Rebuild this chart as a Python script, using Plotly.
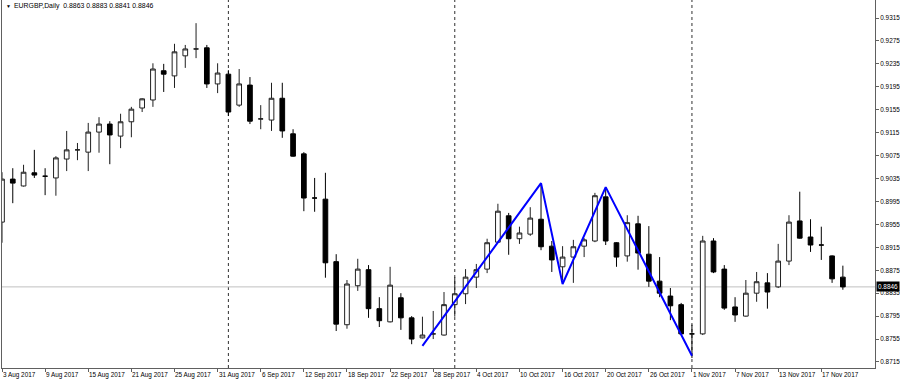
import plotly.graph_objects as go

# ---- data (EURGBP daily) ----
bar_index = list(range(79))
opens = [0.8959, 0.9034, 0.9022, 0.9045, 0.9039, 0.9036, 0.9069, 0.9085, 0.9081, 0.9116,
         0.9130, 0.9109, 0.9134, 0.9158, 0.9172, 0.9223, 0.9214, 0.9249, 0.9261, 0.9263,
         0.9200, 0.9217, 0.9163, 0.9198, 0.9139, 0.9137, 0.9175, 0.9113, 0.9078, 0.9001,
         0.8999, 0.8890, 0.8780, 0.8848, 0.8876, 0.8808, 0.8785, 0.8827, 0.8792, 0.8757,
         0.8764, 0.8762, 0.8815, 0.8834, 0.8863, 0.8877, 0.8924, 0.8970, 0.8930, 0.8938,
         0.8964, 0.8917, 0.8881, 0.8898, 0.8917, 0.8926, 0.9003, 0.8923, 0.8900, 0.8956,
         0.8903, 0.8856, 0.8830, 0.8815, 0.8764, 0.8764, 0.8926, 0.8877, 0.8811, 0.8795,
         0.8835, 0.8853, 0.8846, 0.8891, 0.8961, 0.8933, 0.8919, 0.8900, 0.8863]
highs = [0.9046, 0.9053, 0.9059, 0.9085, 0.9053, 0.9074, 0.9118, 0.9097, 0.9132, 0.9142,
         0.9135, 0.9148, 0.9160, 0.9175, 0.9236, 0.9235, 0.9270, 0.9268, 0.9306, 0.9268,
         0.9236, 0.9224, 0.9226, 0.9212, 0.9163, 0.9202, 0.9202, 0.9121, 0.9081, 0.9036,
         0.9045, 0.8903, 0.8858, 0.8895, 0.8884, 0.8828, 0.8881, 0.8835, 0.8795, 0.8794,
         0.8804, 0.8837, 0.8863, 0.8877, 0.8886, 0.8930, 0.8991, 0.8975, 0.8951, 0.8985,
         0.9027, 0.8926, 0.8917, 0.8928, 0.8931, 0.9010, 0.9020, 0.8924, 0.8971, 0.8970,
         0.8952, 0.8898, 0.8844, 0.8818, 0.8780, 0.8935, 0.8931, 0.8884, 0.8828, 0.8858,
         0.8872, 0.8870, 0.8921, 0.8971, 0.9012, 0.8964, 0.8951, 0.8901, 0.8883]
lows = [0.8923, 0.8992, 0.9021, 0.9036, 0.9006, 0.9005, 0.9048, 0.9067, 0.9048, 0.9080,
        0.9060, 0.9088, 0.9107, 0.9151, 0.9160, 0.9186, 0.9193, 0.9228, 0.9245, 0.9193,
        0.9184, 0.9144, 0.9160, 0.9130, 0.9121, 0.9118, 0.9106, 0.9073, 0.8978, 0.8977,
        0.8862, 0.8769, 0.8773, 0.8839, 0.8792, 0.8776, 0.8784, 0.8771, 0.8746, 0.8756,
        0.8755, 0.8761, 0.8794, 0.8816, 0.8844, 0.8870, 0.8923, 0.8902, 0.8921, 0.8935,
        0.8910, 0.8872, 0.8858, 0.8853, 0.8898, 0.8924, 0.8919, 0.8881, 0.8890, 0.8876,
        0.8846, 0.8828, 0.8788, 0.8763, 0.8722, 0.8762, 0.8870, 0.8806, 0.8785, 0.8794,
        0.8820, 0.8808, 0.8844, 0.8884, 0.8930, 0.8907, 0.8893, 0.8853, 0.8841]
closes = [0.9034, 0.9027, 0.9046, 0.9041, 0.9039, 0.9071, 0.9085, 0.9085, 0.9116, 0.9130,
          0.9111, 0.9134, 0.9156, 0.9174, 0.9226, 0.9217, 0.9256, 0.9261, 0.9261, 0.9200,
          0.9219, 0.9151, 0.9200, 0.9135, 0.9139, 0.9175, 0.9118, 0.9074, 0.9001, 0.9001,
          0.8888, 0.8781, 0.8851, 0.8877, 0.8808, 0.8787, 0.8849, 0.8792, 0.8755, 0.8762,
          0.8764, 0.8815, 0.8834, 0.8863, 0.8876, 0.8923, 0.8978, 0.8930, 0.8940, 0.8966,
          0.8916, 0.8893, 0.8898, 0.8916, 0.8928, 0.9005, 0.8926, 0.8898, 0.8958, 0.8905,
          0.8856, 0.8835, 0.8813, 0.8764, 0.8764, 0.8926, 0.8872, 0.8809, 0.8797, 0.8835,
          0.8855, 0.8837, 0.8891, 0.8959, 0.8931, 0.8919, 0.8919, 0.8860, 0.8846]

# pattern drawn in blue (bar index, price)
pattern_idx = [39, 50, 52, 56, 64]
pattern_price = [0.8743, 0.9027, 0.8851, 0.9020, 0.8726]

# axis labels
date_labels = ["3 Aug 2017", "9 Aug 2017", "15 Aug 2017", "21 Aug 2017", "25 Aug 2017",
               "31 Aug 2017", "6 Sep 2017", "12 Sep 2017", "18 Sep 2017", "22 Sep 2017",
               "28 Sep 2017", "4 Oct 2017", "10 Oct 2017", "16 Oct 2017", "20 Oct 2017",
               "26 Oct 2017", "1 Nov 2017", "7 Nov 2017", "13 Nov 2017", "17 Nov 2017"]
date_label_idx = list(range(0, 80, 4))
price_ticks = [0.9315, 0.9275, 0.9235, 0.9195, 0.9155, 0.9115, 0.9075, 0.9035, 0.8995,
               0.8955, 0.8915, 0.8875, 0.8835, 0.8795, 0.8755, 0.8715]
month_sep_idx = [21, 42, 64]   # 1 Sep, 2 Oct, 1 Nov
bid_price = 0.8846
title_text = "EURGBP,Daily&#160;&#160;0.8863 0.8883 0.8841 0.8846"

FONT = "Liberation Sans"
FS = 6.4

fig = go.Figure()
fig.add_trace(go.Candlestick(
    x=bar_index, open=opens, high=highs, low=lows, close=closes,
    increasing=dict(line=dict(color="#202020", width=1), fillcolor="#ffffff"),
    decreasing=dict(line=dict(color="#000000", width=1), fillcolor="#000000"),
    whiskerwidth=0, showlegend=False, hoverinfo="skip"))
fig.add_trace(go.Scatter(
    x=pattern_idx, y=pattern_price, mode="lines",
    line=dict(color="#0000ff", width=2), showlegend=False, hoverinfo="skip"))

shapes = []
for i in month_sep_idx:
    shapes.append(dict(type="line", xref="x", yref="paper", x0=i, x1=i, y0=0, y1=1,
                       line=dict(color="#303030", width=1, dash="dot"), layer="below"))
shapes.append(dict(type="line", xref="paper", yref="y", x0=0, x1=1, y0=bid_price, y1=bid_price,
                   line=dict(color="#c0c0c0", width=1), layer="below"))

annotations = []
for i, lab in zip(date_label_idx, date_labels):
    annotations.append(dict(x=i, y=0, xref="x", yref="paper", text=lab, showarrow=False,
                            xanchor="left", yanchor="top", yshift=-1, xshift=-1,
                            font=dict(family=FONT, size=FS, color="#000000")))
annotations.append(dict(x=1, y=bid_price, xref="paper", yref="y", text="0.8846",
                        showarrow=False, xanchor="left", yanchor="middle", xshift=1,
                        bgcolor="#000000", borderpad=1,
                        font=dict(family=FONT, size=FS, color="#ffffff")))
annotations.append(dict(x=0, y=1, xref="paper", yref="paper", text="▼", showarrow=False,
                        xanchor="left", yanchor="top", xshift=2, yshift=-1,
                        font=dict(family=FONT, size=5, color="#000000")))
annotations.append(dict(x=0, y=1, xref="paper", yref="paper", text=title_text, showarrow=False,
                        xanchor="left", yanchor="top", xshift=10, yshift=0,
                        font=dict(family=FONT, size=6.9, color="#000000")))

fig.update_layout(
    width=900, height=380,
    margin=dict(l=2, r=25, t=0, b=12, autoexpand=False),
    paper_bgcolor="#ffffff", plot_bgcolor="#ffffff",
    shapes=shapes, annotations=annotations, boxgap=0.38,
    xaxis=dict(range=[0, 80.98], rangeslider=dict(visible=False), showgrid=False,
               zeroline=False, showline=True, linecolor="#606060", linewidth=1,
               tickmode="array", tickvals=date_label_idx, showticklabels=False,
               ticks="outside", ticklen=3, tickcolor="#606060"),
    yaxis=dict(range=[0.87045, 0.93464], side="right", showgrid=False, zeroline=False,
               showline=True, mirror=True, linecolor="#606060", linewidth=1,
               tickmode="array", tickvals=price_ticks, tickformat=".4f",
               ticks="outside", ticklen=3, tickcolor="#606060",
               tickfont=dict(family=FONT, size=FS, color="#000000")),
)

fig.write_html("out.html")
